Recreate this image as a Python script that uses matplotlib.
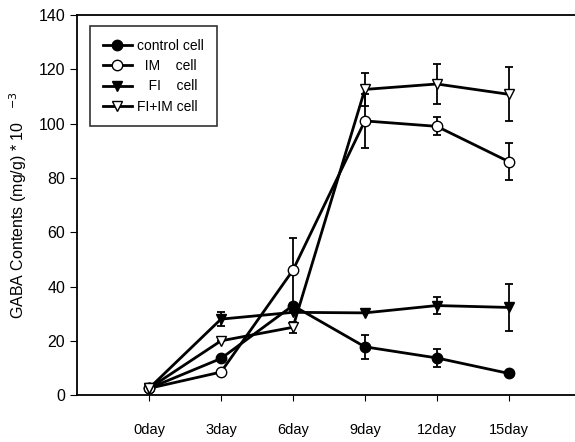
import matplotlib
matplotlib.use("Agg")
import matplotlib.pyplot as plt

days = ["0day", "3day", "6day", "9day", "12day", "15day"]

control = [2.5, 13.5, 33, 17.8, 13.7, 8]
control_err = [0, 0, 0, 4.5, 3.3, 0]
im = [2.5, 8.5, 46, 101, 99, 86]
im_err = [0, 0, 12, 10, 3.3, 6.7]
fi = [2.5, 28, 30.5, 30.3, 33, 32.3]
fi_err = [0, 2.5, 0, 0, 3, 8.7]
fiim = [2.5, 20, 25, 112.6, 114.6, 110.8]
fiim_err = [0, 0, 2, 6, 7.5, 10]

plt.rcParams['font.family'] = ['Liberation Sans', 'DejaVu Sans']

fig = plt.figure(figsize=(5.75, 4.42), dpi=100)
ax = fig.add_axes([0.134, 0.106, 0.876, 0.86])
x = list(range(len(days)))

style = dict(color='black', lw=2, capsize=3, elinewidth=1.3, capthick=1.3, ms=7.5, mec='black')
c1 = ax.errorbar(x, control, yerr=control_err, marker='o', mfc='black', **style)
c2 = ax.errorbar(x, im, yerr=im_err, marker='o', mfc='white', **style)
c3 = ax.errorbar(x, fi, yerr=fi_err, marker='v', mfc='black', **style)
c4 = ax.errorbar(x, fiim, yerr=fiim_err, marker='v', mfc='white', **style)

ax.set_xlim(-1, 6)
ax.set_ylim(0, 140)
ax.set_yticks(range(0, 141, 20))
ax.set_xticks(x)
ax.set_xticklabels(days)
ax.tick_params(axis='x', direction='out', length=4, pad=16, labelsize=10.5)
ax.tick_params(axis='y', direction='out', length=5, labelsize=11.5)
ax.spines['right'].set_visible(False)
for s in ['left', 'bottom', 'top']:
    ax.spines[s].set_linewidth(1.3)

ax.set_ylabel('GABA Contents (mg/g) * 10   $^{-3}$', fontsize=11.5, labelpad=7)

leg = ax.legend([c1[0], c2[0], c3[0], c4[0]],
                ['control cell', '  IM    cell', '   FI    cell', 'FI+IM cell'],
                loc='upper left', bbox_to_anchor=(0.026, 0.97), borderaxespad=0,
                fontsize=10, frameon=True, fancybox=False, edgecolor='black',
                handlelength=2.1, borderpad=0.9, labelspacing=0.45, handletextpad=0.4)
leg.get_frame().set_linewidth(1.2)

fig.savefig('out.png', dpi=100)
